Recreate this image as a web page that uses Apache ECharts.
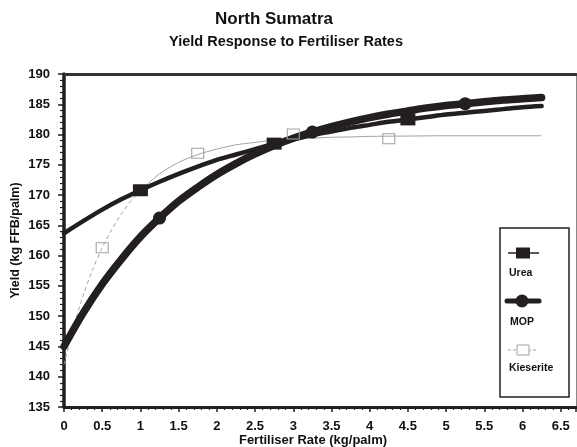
<!DOCTYPE html>
<html>
<head>
<meta charset="utf-8">
<script src="https://cdn.jsdelivr.net/npm/echarts@6/dist/echarts.min.js"></script>
<style>
  html, body { margin: 0; padding: 0; background: #fff; }
  #chart { width: 577px; height: 447px; }
</style>
</head>
<body>
<div id="chart"></div>
<script>
// Fitted response curves, sampled along the fertiliser rate (kg/palm)
const rateSteps = [0, 0.25, 0.5, 0.75, 1, 1.25, 1.5, 1.75, 2, 2.25, 2.5, 2.75, 3,
  3.25, 3.5, 3.75, 4, 4.25, 4.5, 4.75, 5, 5.25, 5.5, 5.75, 6, 6.25];
const ureaFit = [163.7, 165.7, 167.6, 169.3, 170.8, 172.2, 173.5, 174.7, 175.8, 176.7,
  177.6, 178.5, 179.2, 179.9, 180.5, 181.1, 181.6, 182.1, 182.5, 182.9, 183.3, 183.6,
  183.9, 184.2, 184.5, 184.7];
const mopFit = [145.0, 150.5, 155.3, 159.4, 163.1, 166.2, 169.0, 171.3, 173.4, 175.2,
  176.8, 178.2, 179.4, 180.4, 181.3, 182.1, 182.8, 183.4, 183.9, 184.4, 184.8, 185.1,
  185.4, 185.7, 185.9, 186.1];
const kieseriteSteps = [0, 0.125, 0.25, 0.375, 0.5, 0.625, 0.75, 0.875, 1, 1.25, 1.5,
  1.75, 2, 2.25, 2.5, 2.75, 3, 3.25, 3.5, 3.75, 4, 4.5, 5, 5.5, 6, 6.25];
const kieseriteFit = [142.0, 148.2, 153.4, 157.7, 161.3, 164.3, 166.9, 169.0, 170.75,
  173.5, 175.4, 176.7, 177.6, 178.3, 178.7, 179.1, 179.3, 179.4, 179.55, 179.6, 179.7,
  179.75, 179.8, 179.8, 179.8, 179.8];

// Observed trial means
const ureaRates = [1, 2.75, 4.5];
const ureaYields = [170.8, 178.5, 182.5];
const mopRates = [1.25, 3.25, 5.25];
const mopYields = [166.2, 180.4, 185.1];
const kieseriteRates = [0.5, 1.75, 3, 4.25];
const kieseriteYields = [161.3, 176.9, 180.1, 179.3];

// Axis ranges and tick steps
const xRange = [0, 6.7];
const xStep = 0.5;
const yRange = [135, 190];
const yStep = 5;

const pair = (xs, ys) => xs.map((x, i) => [x, ys[i]]);
const kieseritePairs = pair(kieseriteSteps, kieseriteFit);
// below 1 kg/palm the kieserite curve is drawn dashed
const kieseriteLow = kieseritePairs.filter(p => p[0] <= 1);
const kieseriteHigh = kieseritePairs.filter(p => p[0] >= 1);

const FONT = '"Liberation Sans", Arial, Helvetica, sans-serif';
const INK = '#231f20';
const GREY = '#a3a3a3';

const chart = echarts.init(document.getElementById('chart'), null, { renderer: 'canvas' });

const legendX = 500, legendY = 228;

chart.setOption({
  animation: false,
  backgroundColor: '#fff',
  textStyle: { fontFamily: FONT },
  grid: { left: 64, right: 1, top: 74, bottom: 40, containLabel: false, outerBoundsMode: 'none' },
  xAxis: [{
    type: 'value',
    min: xRange[0], max: xRange[1], interval: xStep,
    name: 'Fertiliser Rate (kg/palm)',
    nameLocation: 'middle',
    nameGap: 27,
    nameMoveOverlap: false,
    nameTextStyle: { fontFamily: FONT, fontWeight: 'bold', fontSize: 13, color: '#111', padding: [0, 14, 0, 0] },
    axisLine: { show: true, onZero: false, lineStyle: { color: INK, width: 3 } },
    axisTick: { show: true, length: 5, lineStyle: { color: INK, width: 1.5 } },
    minorTick: { show: true, splitNumber: 5, length: 3, lineStyle: { color: INK, width: 1.2 } },
    axisLabel: { margin: 13, fontFamily: FONT, fontWeight: 'bold', fontSize: 13, color: '#111', showMaxLabel: false },
    splitLine: { show: false }
  }, {
    type: 'value', position: 'top',
    min: xRange[0], max: xRange[1],
    axisLine: { show: true, onZero: false, lineStyle: { color: '#333', width: 3 } },
    axisTick: { show: false }, axisLabel: { show: false }, splitLine: { show: false }
  }],
  yAxis: [{
    type: 'value',
    min: yRange[0], max: yRange[1], interval: yStep,
    name: 'Yield (kg FFB/palm)',
    nameLocation: 'middle',
    nameGap: 42,
    nameMoveOverlap: false,
    nameTextStyle: { fontFamily: FONT, fontWeight: 'bold', fontSize: 12.5, color: '#111' },
    axisLine: { show: true, onZero: false, lineStyle: { color: INK, width: 3.5 } },
    axisTick: { show: true, length: 6, lineStyle: { color: INK, width: 1.5 } },
    minorTick: { show: true, splitNumber: 5, length: 4, lineStyle: { color: INK, width: 1.2 } },
    axisLabel: { margin: 14, fontFamily: FONT, fontWeight: 'bold', fontSize: 13, color: '#111' },
    splitLine: { show: false }
  }, {
    type: 'value', position: 'right',
    min: yRange[0], max: yRange[1],
    axisLine: { show: true, onZero: false, lineStyle: { color: '#888', width: 1 } },
    axisTick: { show: false }, axisLabel: { show: false }, splitLine: { show: false }
  }],
  series: [
    {
      name: 'Kieserite', type: 'line', data: kieseriteLow, smooth: 0.3,
      showSymbol: false, z: 2,
      lineStyle: { color: GREY, width: 1, type: [4, 3] }
    },
    {
      name: 'Kieserite', type: 'line', data: kieseriteHigh, smooth: 0.3,
      showSymbol: false, z: 2,
      lineStyle: { color: GREY, width: 1 }
    },
    {
      name: 'Urea', type: 'line', data: pair(rateSteps, ureaFit), smooth: 0.3,
      showSymbol: false, z: 3,
      lineStyle: { color: INK, width: 4.5, cap: 'round' }
    },
    {
      name: 'MOP', type: 'line', data: pair(rateSteps, mopFit), smooth: 0.3,
      showSymbol: false, z: 3,
      lineStyle: { color: INK, width: 7.5, cap: 'round' }
    },
    {
      name: 'Urea', type: 'scatter', data: pair(ureaRates, ureaYields), z: 4,
      symbol: 'rect', symbolSize: [15, 12],
      itemStyle: { color: INK, opacity: 1 }
    },
    {
      name: 'MOP', type: 'scatter', data: pair(mopRates, mopYields), z: 4,
      symbol: 'circle', symbolSize: 13,
      itemStyle: { color: INK, opacity: 1 }
    },
    {
      name: 'Kieserite', type: 'scatter', data: pair(kieseriteRates, kieseriteYields), z: 5,
      symbol: 'rect', symbolSize: [12, 10],
      itemStyle: { color: 'rgba(255,255,255,0)', borderColor: GREY, borderWidth: 1, opacity: 1 }
    }
  ],
  graphic: [
    // titles
    { type: 'text', x: 274, y: 19, z: 10, style: { text: 'North Sumatra', font: 'bold 17px ' + FONT, fill: '#111', align: 'center', verticalAlign: 'middle' } },
    { type: 'text', x: 286, y: 42, z: 10, style: { text: 'Yield Response to Fertiliser Rates', font: 'bold 14.5px ' + FONT, fill: '#111', align: 'center', verticalAlign: 'middle' } },
    // legend box
    { type: 'rect', z: 20, shape: { x: legendX, y: legendY, width: 69, height: 169 }, style: { fill: '#fff', stroke: '#222', lineWidth: 1.5 } },
    { type: 'line', z: 21, shape: { x1: 508, y1: 253, x2: 539, y2: 253 }, style: { stroke: INK, lineWidth: 1.5 } },
    { type: 'rect', z: 22, shape: { x: 516, y: 247.5, width: 14, height: 11 }, style: { fill: INK } },
    { type: 'text', z: 22, x: 509, y: 273, style: { text: 'Urea', font: 'bold 10.5px ' + FONT, fill: '#111', verticalAlign: 'middle' } },
    { type: 'line', z: 21, shape: { x1: 507, y1: 301, x2: 539, y2: 301 }, style: { stroke: INK, lineWidth: 5, lineCap: 'round' } },
    { type: 'circle', z: 22, shape: { cx: 522, cy: 301, r: 6.5 }, style: { fill: INK } },
    { type: 'text', z: 22, x: 510, y: 322, style: { text: 'MOP', font: 'bold 10.5px ' + FONT, fill: '#111', verticalAlign: 'middle' } },
    { type: 'line', z: 21, shape: { x1: 508, y1: 350, x2: 537, y2: 350 }, style: { stroke: GREY, lineWidth: 1, lineDash: [3, 2] } },
    { type: 'rect', z: 22, shape: { x: 517, y: 345, width: 12, height: 10 }, style: { fill: '#fff', stroke: GREY, lineWidth: 1 } },
    { type: 'text', z: 22, x: 509, y: 368, style: { text: 'Kieserite', font: 'bold 10.5px ' + FONT, fill: '#111', verticalAlign: 'middle' } }
  ]
});
</script>
</body>
</html>
